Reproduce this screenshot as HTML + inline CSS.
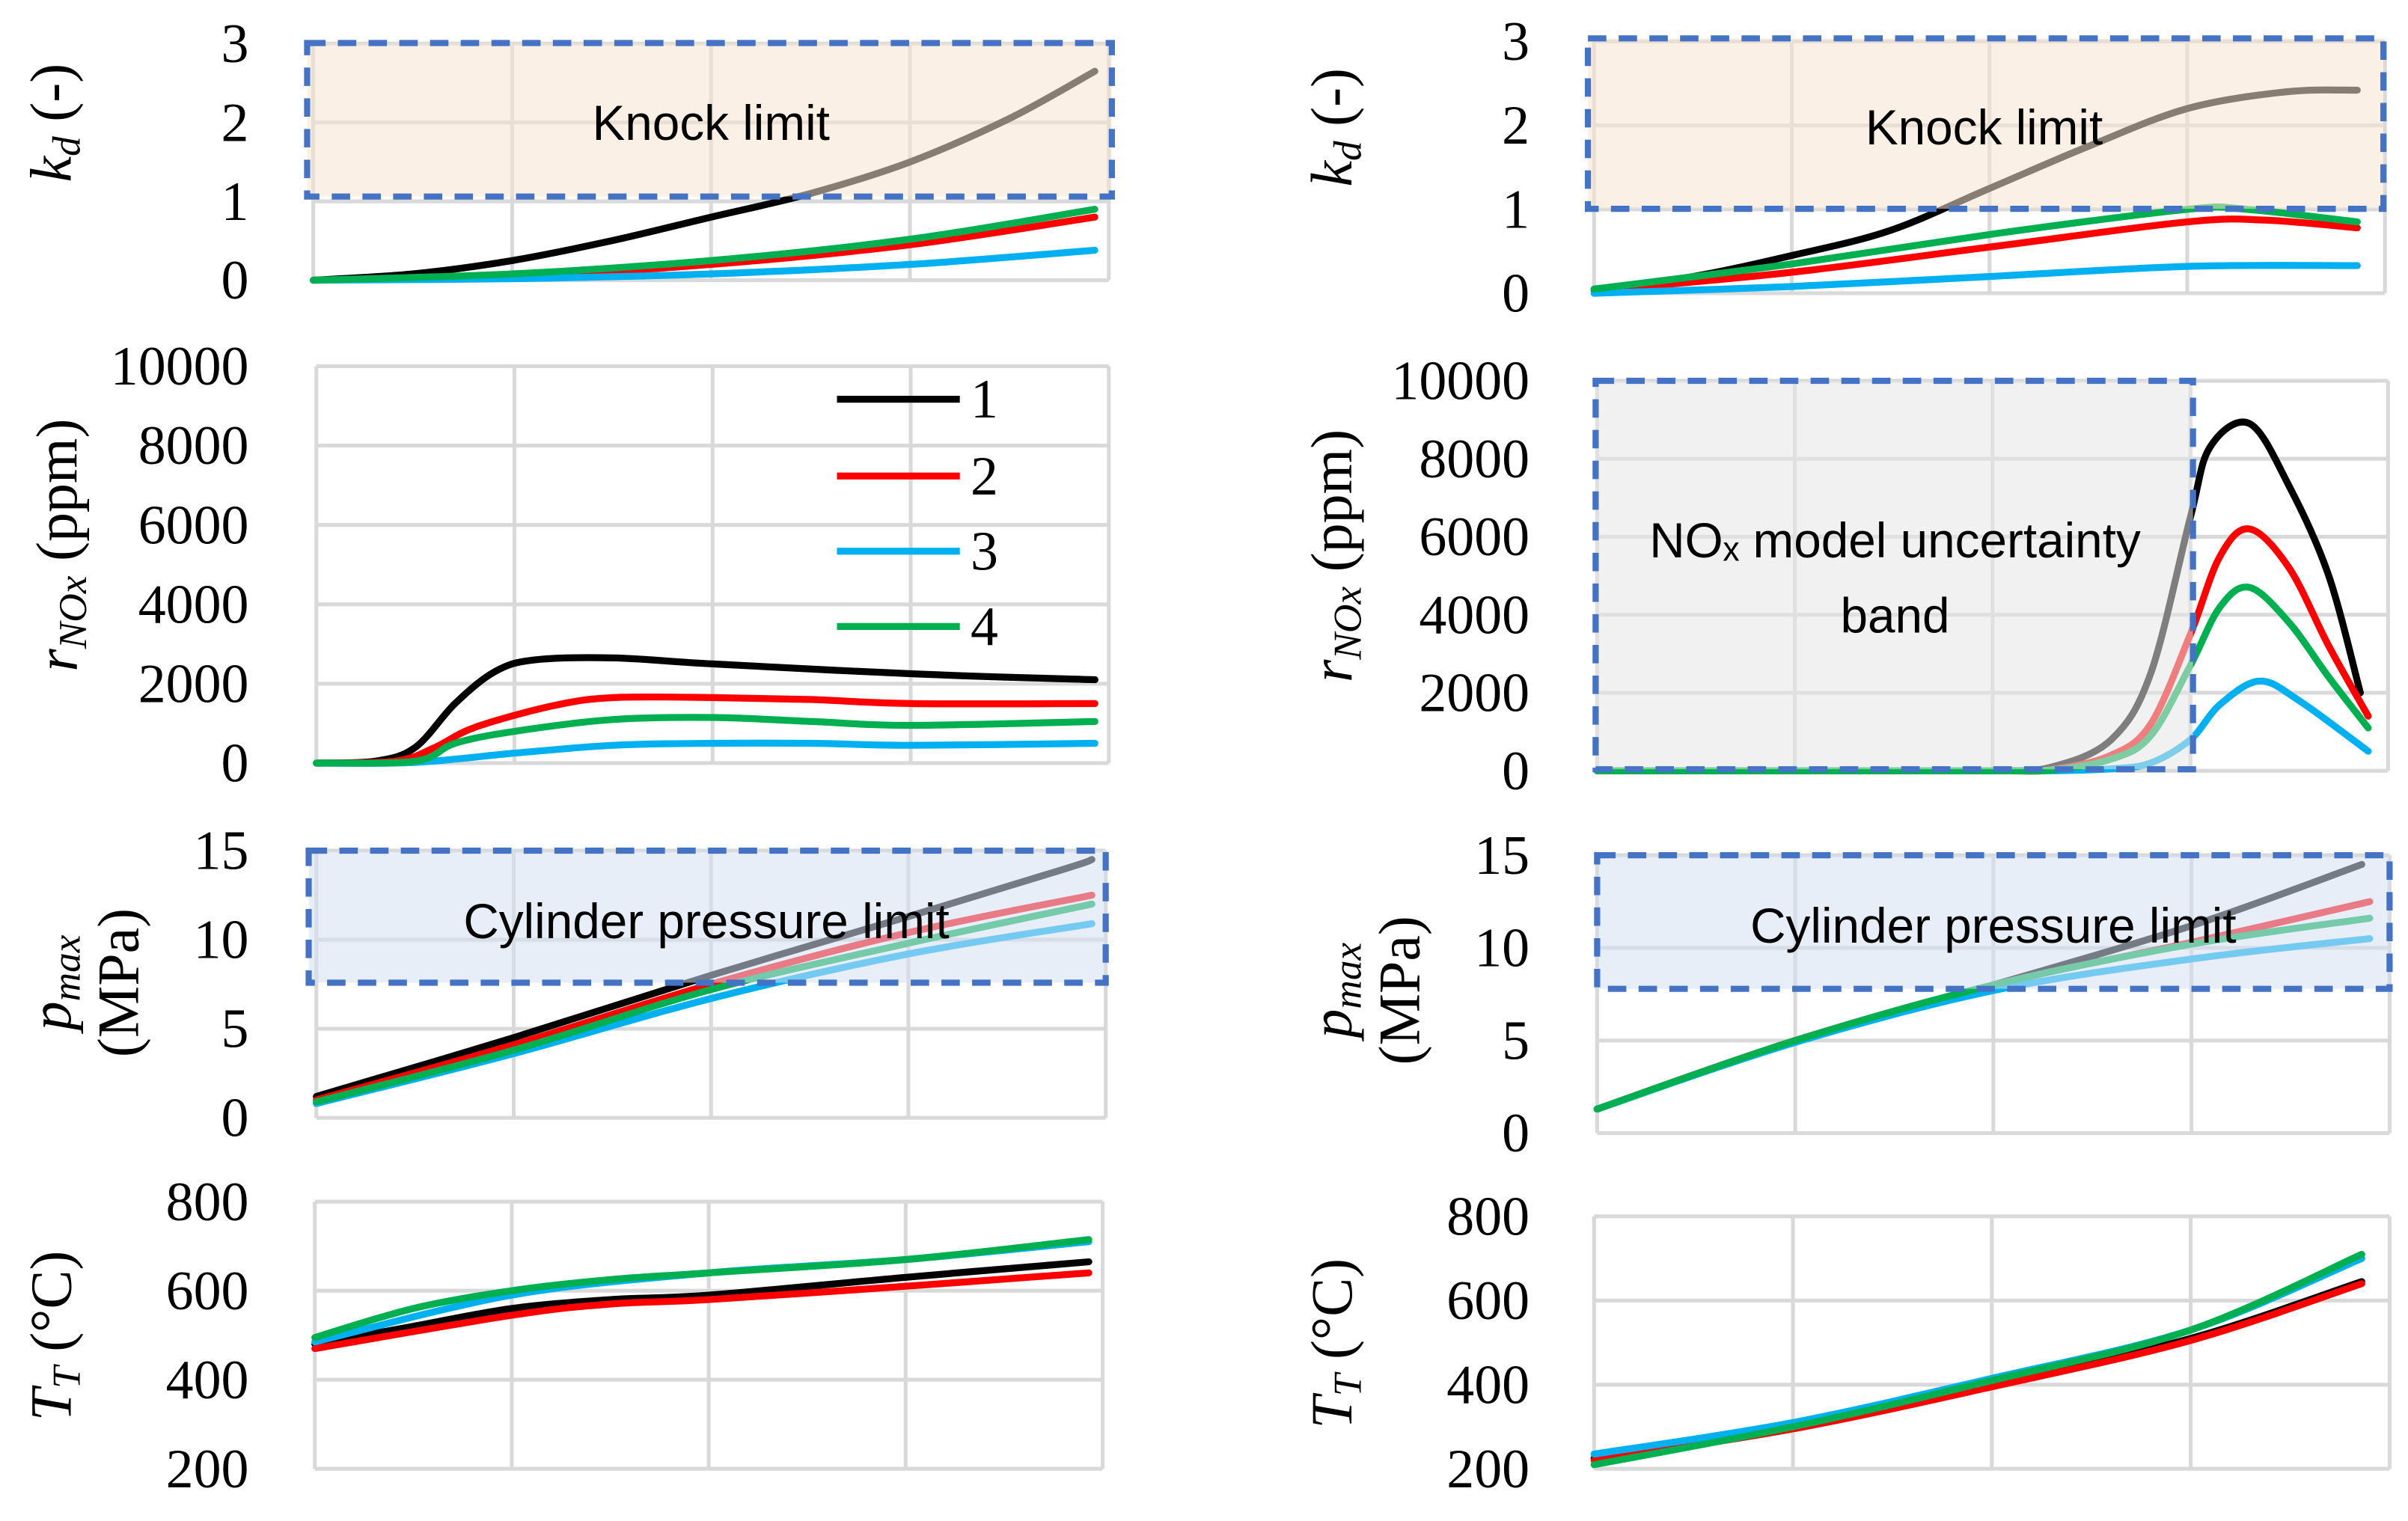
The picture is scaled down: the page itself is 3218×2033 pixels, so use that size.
<!DOCTYPE html>
<html><head><meta charset="utf-8"><style>
html,body{margin:0;padding:0;background:#fff;}
svg{display:block;}
text{font-family:"Liberation Serif",serif;fill:#000;}
.sans text{font-family:"Liberation Sans",sans-serif;}
</style></head><body>
<svg id="chart" width="3218" height="2033" viewBox="0 0 1568 990.6" xmlns="http://www.w3.org/2000/svg"></svg>
<script>
// ---------- data ----------
const xTicks=[0,1,2,3,4];
const kdTicks=[0,1,2,3];
const noxTicks=[0,2000,4000,6000,8000,10000];
const pTicks=[0,5,10,15];
const tTicks=[200,400,600,800];
const seriesNames=['1','2','3','4'];
const seriesColors=['#000000','#FF0000','#00B0F0','#00B050'];
// left column
const kdL_x=[[0,0.5,1,1.5,2,2.5,3,3.5,3.93],[0,1,2,3,3.93],[0,1,2,3,3.93],[0,1,2,3,3.93]];
const kdL_y=[[0,0.08,0.25,0.5,0.8,1.1,1.5,2.05,2.65],[0,0.05,0.2,0.45,0.8],[0,0.02,0.08,0.2,0.38],[0,0.08,0.25,0.52,0.9]];
const noxL_x=[[0,0.3,0.5,0.7,0.9,1.1,1.5,2,3,3.93],[0,0.4,0.6,0.8,1.2,1.5,2,2.5,3,3.93],[0,0.5,1,1.5,2,2.5,3,3.93],[0,0.5,0.7,1,1.5,2,2.5,3,3.93]];
const noxL_y=[[0,50,400,1500,2300,2600,2650,2500,2250,2100],[0,50,400,900,1450,1650,1650,1600,1500,1500],[0,20,250,450,500,500,450,500],[0,50,500,800,1100,1150,1050,950,1050]];
const pL_x=[[0,1,2,3,3.8,3.93],[0,1,2,3,3.93],[0,1,2,3,3.93],[0,1,2,3,3.93]];
const pL_y=[[1.2,4.5,8.0,11.3,14.0,14.5],[1.0,4.1,7.5,10.4,12.5],[0.8,3.6,6.7,9.2,10.9],[0.9,3.8,7.2,9.8,12.0]];
const tL_x=[[0,0.5,1,1.5,2,3,3.93],[0,1,1.5,2,3,3.93],[0,1,2,3,3.93],[0,0.5,1,1.5,2,3,3.93]];
const tL_y=[[480,520,560,580,590,630,665],[470,545,570,580,610,640],[485,590,640,670,710],[495,560,600,625,640,670,715]];
// right column
const kdR_x=[[0,0.5,1,1.5,2,2.5,3,3.5,3.86],[0,1,2,3,3.4,3.86],[0,1,2,3,3.86],[0,1,2,3,3.3,3.86]];
const kdR_y=[[0.05,0.2,0.45,0.75,1.25,1.75,2.2,2.4,2.42],[0.03,0.25,0.55,0.85,0.87,0.78],[0,0.08,0.2,0.32,0.33],[0.05,0.35,0.7,1.0,1.0,0.85]];
const noxR_x=[[0,1,2,2.3,2.6,2.8,3,3.1,3.3,3.5,3.7,3.86],[0,1,2,2.3,2.6,2.8,3,3.15,3.3,3.5,3.7,3.9],[0,1,2,2.3,2.6,2.8,3,3.15,3.35,3.55,3.9],[0,1,2,2.3,2.6,2.8,3,3.15,3.3,3.5,3.7,3.9]];
const noxR_y=[[0,0,0,100,800,2500,6500,8300,8900,7300,5000,2000],[0,0,0,30,400,1200,3500,5500,6200,5200,3200,1400],[0,0,0,0,50,200,800,1700,2300,1800,500],[0,0,0,20,300,900,2700,4200,4700,3800,2400,1100]];
const pR_x=[[0,1,2,3,3.86],[0,1,2,3,3.9],[0,1,2,3,3.9],[0,1,2,3,3.9]];
const pR_y=[[1.3,5.0,8.0,11.2,14.5],[1.3,5.0,8.0,10.3,12.5],[1.3,4.9,7.7,9.4,10.5],[1.3,5.0,8.0,10.2,11.6]];
const tR_x=[[0,1,2,3,3.86],[0,1,2,3,3.86],[0,1,2,3,3.86],[0,1,2,3,3.86]];
const tR_y=[[225,300,400,510,645],[220,295,395,505,640],[235,310,415,530,700],[210,300,410,530,710]];

const NS='http://www.w3.org/2000/svg';
const svg=document.getElementById('chart');
function mk(tag,attrs,parent){const e=document.createElementNS(NS,tag);for(const k in attrs)e.setAttribute(k,attrs[k]);(parent||svg).appendChild(e);return e;}
function smooth(pts){let d='M'+pts[0][0].toFixed(1)+','+pts[0][1].toFixed(1);
 for(let i=0;i<pts.length-1;i++){const p0=pts[i-1]||pts[i],p1=pts[i],p2=pts[i+1],p3=pts[i+2]||p2;
  const c1=[p1[0]+(p2[0]-p0[0])/6,p1[1]+(p2[1]-p0[1])/6],c2=[p2[0]-(p3[0]-p1[0])/6,p2[1]-(p3[1]-p1[1])/6];
  d+=' C'+c1.map(v=>v.toFixed(1)).join(',')+' '+c2.map(v=>v.toFixed(1)).join(',')+' '+p2.map(v=>v.toFixed(1)).join(',');}
 return d;}

function panel(cfg){
 const g=mk('g',{});
 
 
 const xs=v=>cfg.x0+(cfg.x1-cfg.x0)*v/4;
 const ys=v=>cfg.y0+(cfg.yTop-cfg.y0)*(v-cfg.ticks[0])/(cfg.ticks[cfg.ticks.length-1]-cfg.ticks[0]);
 xTicks.forEach(t=>{const l=mk('line',{x1:xs(t),x2:xs(t),y1:ys(cfg.ticks[0]),y2:ys(cfg.ticks[cfg.ticks.length-1]),stroke:'#D9D9D9','stroke-width':2.5},g);
  
  });
 cfg.ticks.forEach(t=>{const l=mk('line',{x1:cfg.x0,x2:cfg.x1,y1:ys(t),y2:ys(t),stroke:'#D9D9D9','stroke-width':2.5},g);
  
  
  const tx=mk('text',{x:cfg.labX,y:ys(t)+12,'text-anchor':'end','font-size':36},g);tx.textContent=t;
  
  });
 cfg.xd.forEach((xa,i)=>{const pts=xa.map((x,j)=>[xs(x),ys(cfg.yd[i][j])]);
  const p=mk('path',{d:smooth(pts),fill:'none',stroke:seriesColors[i],'stroke-width':4.5,'stroke-linecap':'round'},g);
  
  });
 if(cfg.box){const b=cfg.box;
  const r=mk('rect',{x:b.x,y:b.y,width:b.w,height:b.h,fill:b.fill,'fill-opacity':0.55,stroke:'#4472C4','stroke-width':4,'stroke-dasharray':'12 8'},g);
  
  }
 return g;}

panel({name:'kd-left-panel',x0:204,x1:722,y0:182.5,yTop:28.4,ticks:kdTicks,labX:162,xd:kdL_x,yd:kdL_y,box:{x:200,y:28,w:524,h:100,fill:'#F7E4D0',name:'knock-limit-box'}});
panel({name:'nox-left-panel',x0:206,x1:722,y0:497,yTop:238.5,ticks:noxTicks,labX:162,xd:noxL_x,yd:noxL_y});
panel({name:'pmax-left-panel',x0:206,x1:720,y0:728,yTop:554,ticks:pTicks,labX:162,xd:pL_x,yd:pL_y,box:{x:201,y:554,w:519,h:86,fill:'#D6E0F3',name:'cylinder-pressure-box'}});
panel({name:'tt-left-panel',x0:205,x1:718,y0:956.6,yTop:782.6,ticks:tTicks,labX:162,xd:tL_x,yd:tL_y});
panel({name:'kd-right-panel',x0:1038,x1:1553,y0:191,yTop:27,ticks:kdTicks,labX:996,xd:kdR_x,yd:kdR_y,box:{x:1034,y:25,w:518,h:111,fill:'#F7E4D0',name:'knock-limit-box-right'}});
panel({name:'nox-right-panel',x0:1040,x1:1555,y0:502,yTop:248,ticks:noxTicks,labX:996,xd:noxR_x,yd:noxR_y,box:{x:1039,y:248,w:389,h:253,fill:'#E6E6E6',name:'nox-uncertainty-box'}});
panel({name:'pmax-right-panel',x0:1040,x1:1556,y0:738,yTop:557,ticks:pTicks,labX:996,xd:pR_x,yd:pR_y,box:{x:1040,y:557,w:516,h:87,fill:'#D6E0F3',name:'cylinder-pressure-box-right'}});
panel({name:'tt-right-panel',x0:1038,x1:1556,y0:956.6,yTop:792.2,ticks:tTicks,labX:996,xd:tR_x,yd:tR_y});
</script>
<svg style="position:absolute;left:0;top:0" width="3218" height="2033" viewBox="0 0 1568 990.6" xmlns="http://www.w3.org/2000/svg">
<g class="sans" font-size="32" text-anchor="middle">
<text x="463" y="91">Knock limit</text>
<text x="1292" y="94">Knock limit</text>
<text x="460" y="611">Cylinder pressure limit</text>
<text x="1298" y="614">Cylinder pressure limit</text>
<text x="1234" y="363">NOₓ model uncertainty</text>
<text x="1234" y="412">band</text>
</g>
<g font-size="36">
<text x="632" y="272">1</text>
<text x="632" y="322">2</text>
<text x="632" y="371">3</text>
<text x="632" y="420">4</text>
</g>
<line x1="545" x2="625" y1="260" y2="260" stroke="#000" stroke-width="4.5"/>
<line x1="545" x2="625" y1="310" y2="310" stroke="#FF0000" stroke-width="4.5"/>
<line x1="545" x2="625" y1="359" y2="359" stroke="#00B0F0" stroke-width="4.5"/>
<line x1="545" x2="625" y1="408" y2="408" stroke="#00B050" stroke-width="4.5"/>
<g font-size="38" text-anchor="middle">
<text transform="translate(46,80) rotate(-90)"><tspan font-style="italic">k<tspan font-size="26" dy="6">d</tspan></tspan><tspan dy="-6"> (-)</tspan></text>
<text transform="translate(880,83) rotate(-90)"><tspan font-style="italic">k<tspan font-size="26" dy="6">d</tspan></tspan><tspan dy="-6"> (-)</tspan></text>
<text transform="translate(50,355) rotate(-90)"><tspan font-style="italic">r<tspan font-size="26" dy="6">NOx</tspan></tspan><tspan dy="-6"> (ppm)</tspan></text>
<text transform="translate(880,362) rotate(-90)"><tspan font-style="italic">r<tspan font-size="26" dy="6">NOx</tspan></tspan><tspan dy="-6"> (ppm)</tspan></text>
<text transform="translate(46,640) rotate(-90)"><tspan font-style="italic">p<tspan font-size="26" dy="6">max</tspan></tspan></text>
<text transform="translate(90,640) rotate(-90)">(MPa)</text>
<text transform="translate(880,645) rotate(-90)"><tspan font-style="italic">p<tspan font-size="26" dy="6">max</tspan></tspan></text>
<text transform="translate(924,645) rotate(-90)">(MPa)</text>
<text transform="translate(46,870) rotate(-90)"><tspan font-style="italic">T<tspan font-size="26" dy="6">T</tspan></tspan><tspan dy="-6"> (°C)</tspan></text>
<text transform="translate(880,875) rotate(-90)"><tspan font-style="italic">T<tspan font-size="26" dy="6">T</tspan></tspan><tspan dy="-6"> (°C)</tspan></text>
</g>
</svg>
</body></html>
